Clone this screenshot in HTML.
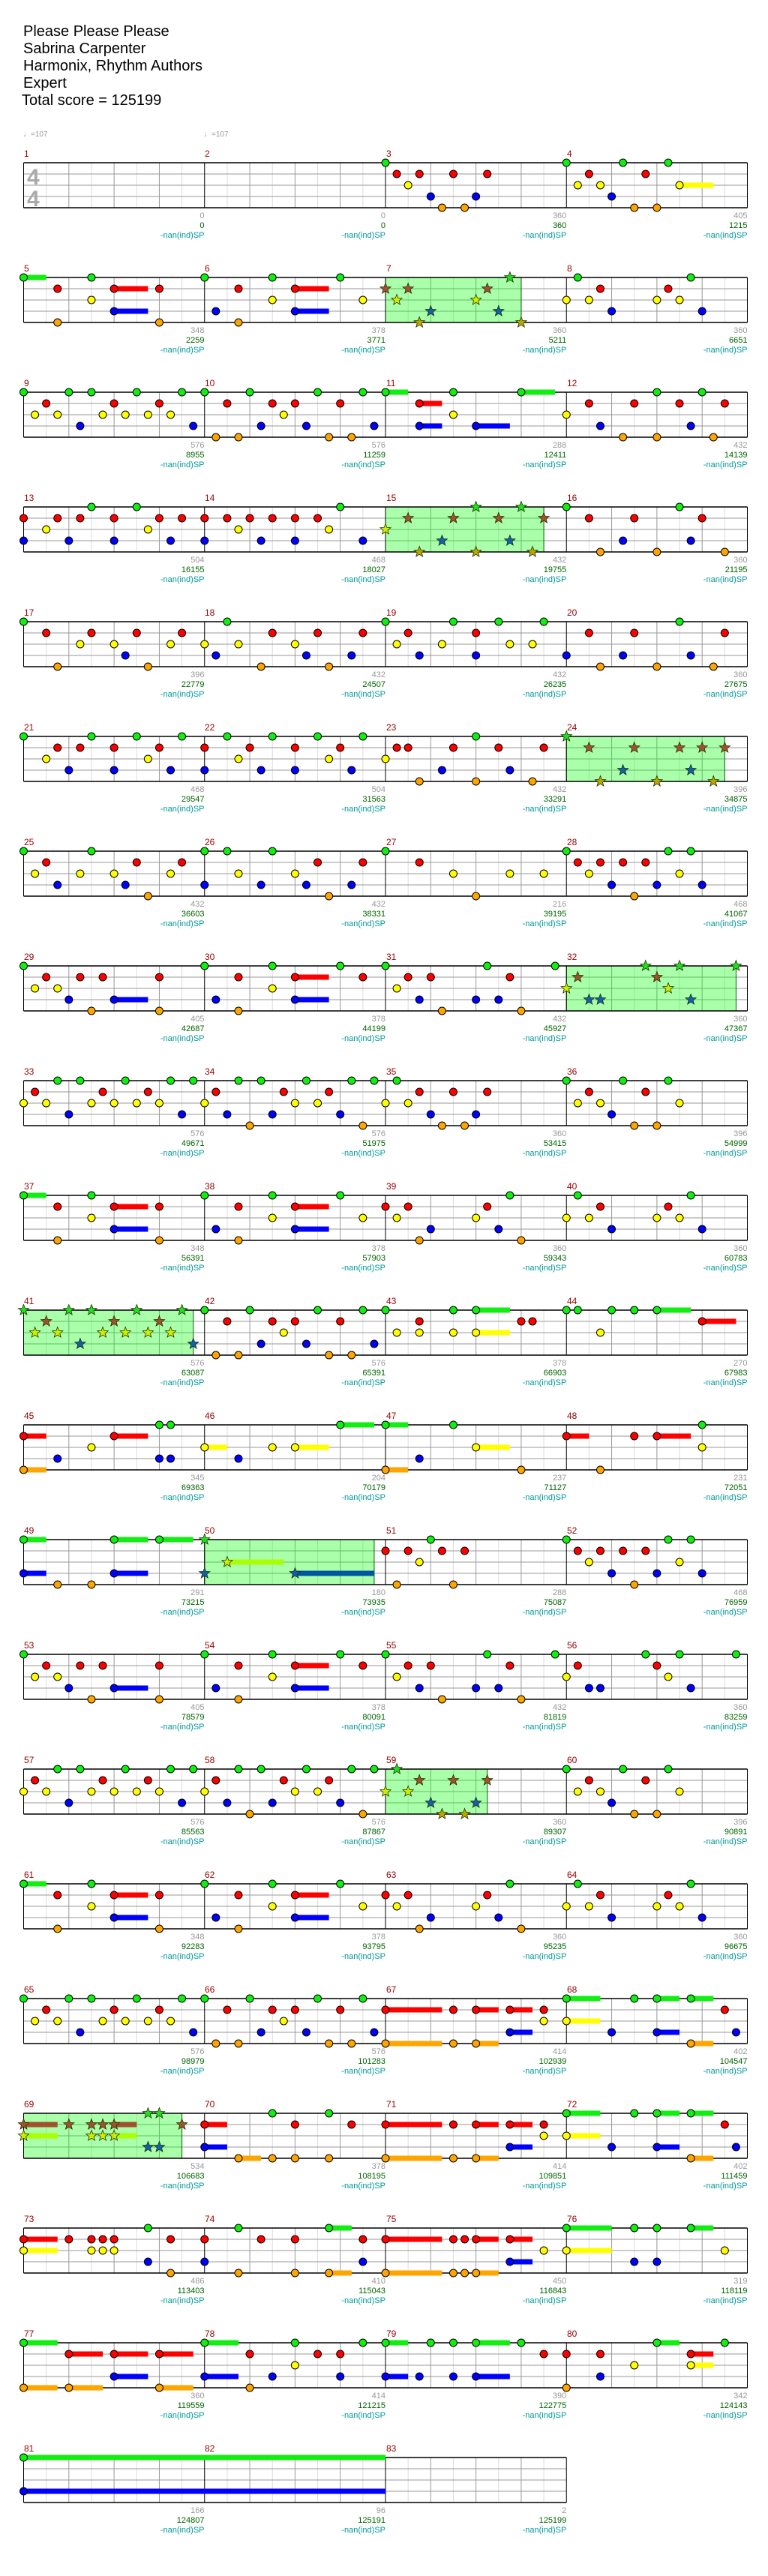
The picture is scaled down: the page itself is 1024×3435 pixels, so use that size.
<!DOCTYPE html>
<html><head><meta charset="utf-8">
<style>
html,body{margin:0;padding:0;background:#fff;}
body{width:1024px;height:3430px;position:relative;overflow:hidden;font-family:"Liberation Sans","DejaVu Sans",sans-serif;}
#g{position:absolute;left:0;top:0;width:1024px;height:3430px;}
.t{position:absolute;left:31px;top:31px;font-size:20px;line-height:23px;color:#000;}
.tp{position:absolute;top:174px;font-size:10px;color:#999;}
.ts{position:absolute;left:36px;font-size:30px;font-weight:bold;color:#aaa;line-height:1;}
.r{position:absolute;left:0;width:1024px;height:120px;}
.n{position:absolute;top:-19px;font-size:12px;line-height:14px;color:#990000;}
.l{position:absolute;top:65px;font-size:11px;line-height:13px;color:#999;text-align:right;transform:translateX(-100%);white-space:nowrap;font-weight:normal;}
.l b{color:#006400;font-weight:normal;}
.l i{color:#009999;font-style:normal;}
.n0{left:32px}.n1{left:273px}.n2{left:515px}.n3{left:756px}
.c0{left:272.5px}.c1{left:514px}.c2{left:755.3px}.c3{left:996.5px}
</style></head><body>
<div id="g"></div>
<div class="t">Please Please Please<br>Sabrina Carpenter<br>Harmonix, Rhythm Authors<br>Expert<br><span style="margin-left:-2px">Total score = 125199</span></div>
<div class="tp" style="left:31px">♩=107</div>
<div class="tp" style="left:272px">♩=107</div>
<div class="ts" style="top:222px">4</div>
<div class="ts" style="top:251px">4</div>

<div class="r" style="top:217px"><span class="n n0">1</span><span class="n n1">2</span><span class="n n2">3</span><span class="n n3">4</span>
<span class="l c0">0<br><b>0</b><br><i>-nan(ind)SP</i></span><span class="l c1">0<br><b>0</b><br><i>-nan(ind)SP</i></span><span class="l c2">360<br><b>360</b><br><i>-nan(ind)SP</i></span><span class="l c3">405<br><b>1215</b><br><i>-nan(ind)SP</i></span></div>
<div class="r" style="top:370px"><span class="n n0">5</span><span class="n n1">6</span><span class="n n2">7</span><span class="n n3">8</span>
<span class="l c0">348<br><b>2259</b><br><i>-nan(ind)SP</i></span><span class="l c1">378<br><b>3771</b><br><i>-nan(ind)SP</i></span><span class="l c2">360<br><b>5211</b><br><i>-nan(ind)SP</i></span><span class="l c3">360<br><b>6651</b><br><i>-nan(ind)SP</i></span></div>
<div class="r" style="top:523px"><span class="n n0">9</span><span class="n n1">10</span><span class="n n2">11</span><span class="n n3">12</span>
<span class="l c0">576<br><b>8955</b><br><i>-nan(ind)SP</i></span><span class="l c1">576<br><b>11259</b><br><i>-nan(ind)SP</i></span><span class="l c2">288<br><b>12411</b><br><i>-nan(ind)SP</i></span><span class="l c3">432<br><b>14139</b><br><i>-nan(ind)SP</i></span></div>
<div class="r" style="top:676px"><span class="n n0">13</span><span class="n n1">14</span><span class="n n2">15</span><span class="n n3">16</span>
<span class="l c0">504<br><b>16155</b><br><i>-nan(ind)SP</i></span><span class="l c1">468<br><b>18027</b><br><i>-nan(ind)SP</i></span><span class="l c2">432<br><b>19755</b><br><i>-nan(ind)SP</i></span><span class="l c3">360<br><b>21195</b><br><i>-nan(ind)SP</i></span></div>
<div class="r" style="top:829px"><span class="n n0">17</span><span class="n n1">18</span><span class="n n2">19</span><span class="n n3">20</span>
<span class="l c0">396<br><b>22779</b><br><i>-nan(ind)SP</i></span><span class="l c1">432<br><b>24507</b><br><i>-nan(ind)SP</i></span><span class="l c2">432<br><b>26235</b><br><i>-nan(ind)SP</i></span><span class="l c3">360<br><b>27675</b><br><i>-nan(ind)SP</i></span></div>
<div class="r" style="top:982px"><span class="n n0">21</span><span class="n n1">22</span><span class="n n2">23</span><span class="n n3">24</span>
<span class="l c0">468<br><b>29547</b><br><i>-nan(ind)SP</i></span><span class="l c1">504<br><b>31563</b><br><i>-nan(ind)SP</i></span><span class="l c2">432<br><b>33291</b><br><i>-nan(ind)SP</i></span><span class="l c3">396<br><b>34875</b><br><i>-nan(ind)SP</i></span></div>
<div class="r" style="top:1135px"><span class="n n0">25</span><span class="n n1">26</span><span class="n n2">27</span><span class="n n3">28</span>
<span class="l c0">432<br><b>36603</b><br><i>-nan(ind)SP</i></span><span class="l c1">432<br><b>38331</b><br><i>-nan(ind)SP</i></span><span class="l c2">216<br><b>39195</b><br><i>-nan(ind)SP</i></span><span class="l c3">468<br><b>41067</b><br><i>-nan(ind)SP</i></span></div>
<div class="r" style="top:1288px"><span class="n n0">29</span><span class="n n1">30</span><span class="n n2">31</span><span class="n n3">32</span>
<span class="l c0">405<br><b>42687</b><br><i>-nan(ind)SP</i></span><span class="l c1">378<br><b>44199</b><br><i>-nan(ind)SP</i></span><span class="l c2">432<br><b>45927</b><br><i>-nan(ind)SP</i></span><span class="l c3">360<br><b>47367</b><br><i>-nan(ind)SP</i></span></div>
<div class="r" style="top:1441px"><span class="n n0">33</span><span class="n n1">34</span><span class="n n2">35</span><span class="n n3">36</span>
<span class="l c0">576<br><b>49671</b><br><i>-nan(ind)SP</i></span><span class="l c1">576<br><b>51975</b><br><i>-nan(ind)SP</i></span><span class="l c2">360<br><b>53415</b><br><i>-nan(ind)SP</i></span><span class="l c3">396<br><b>54999</b><br><i>-nan(ind)SP</i></span></div>
<div class="r" style="top:1594px"><span class="n n0">37</span><span class="n n1">38</span><span class="n n2">39</span><span class="n n3">40</span>
<span class="l c0">348<br><b>56391</b><br><i>-nan(ind)SP</i></span><span class="l c1">378<br><b>57903</b><br><i>-nan(ind)SP</i></span><span class="l c2">360<br><b>59343</b><br><i>-nan(ind)SP</i></span><span class="l c3">360<br><b>60783</b><br><i>-nan(ind)SP</i></span></div>
<div class="r" style="top:1747px"><span class="n n0">41</span><span class="n n1">42</span><span class="n n2">43</span><span class="n n3">44</span>
<span class="l c0">576<br><b>63087</b><br><i>-nan(ind)SP</i></span><span class="l c1">576<br><b>65391</b><br><i>-nan(ind)SP</i></span><span class="l c2">378<br><b>66903</b><br><i>-nan(ind)SP</i></span><span class="l c3">270<br><b>67983</b><br><i>-nan(ind)SP</i></span></div>
<div class="r" style="top:1900px"><span class="n n0">45</span><span class="n n1">46</span><span class="n n2">47</span><span class="n n3">48</span>
<span class="l c0">345<br><b>69363</b><br><i>-nan(ind)SP</i></span><span class="l c1">204<br><b>70179</b><br><i>-nan(ind)SP</i></span><span class="l c2">237<br><b>71127</b><br><i>-nan(ind)SP</i></span><span class="l c3">231<br><b>72051</b><br><i>-nan(ind)SP</i></span></div>
<div class="r" style="top:2053px"><span class="n n0">49</span><span class="n n1">50</span><span class="n n2">51</span><span class="n n3">52</span>
<span class="l c0">291<br><b>73215</b><br><i>-nan(ind)SP</i></span><span class="l c1">180<br><b>73935</b><br><i>-nan(ind)SP</i></span><span class="l c2">288<br><b>75087</b><br><i>-nan(ind)SP</i></span><span class="l c3">468<br><b>76959</b><br><i>-nan(ind)SP</i></span></div>
<div class="r" style="top:2206px"><span class="n n0">53</span><span class="n n1">54</span><span class="n n2">55</span><span class="n n3">56</span>
<span class="l c0">405<br><b>78579</b><br><i>-nan(ind)SP</i></span><span class="l c1">378<br><b>80091</b><br><i>-nan(ind)SP</i></span><span class="l c2">432<br><b>81819</b><br><i>-nan(ind)SP</i></span><span class="l c3">360<br><b>83259</b><br><i>-nan(ind)SP</i></span></div>
<div class="r" style="top:2359px"><span class="n n0">57</span><span class="n n1">58</span><span class="n n2">59</span><span class="n n3">60</span>
<span class="l c0">576<br><b>85563</b><br><i>-nan(ind)SP</i></span><span class="l c1">576<br><b>87867</b><br><i>-nan(ind)SP</i></span><span class="l c2">360<br><b>89307</b><br><i>-nan(ind)SP</i></span><span class="l c3">396<br><b>90891</b><br><i>-nan(ind)SP</i></span></div>
<div class="r" style="top:2512px"><span class="n n0">61</span><span class="n n1">62</span><span class="n n2">63</span><span class="n n3">64</span>
<span class="l c0">348<br><b>92283</b><br><i>-nan(ind)SP</i></span><span class="l c1">378<br><b>93795</b><br><i>-nan(ind)SP</i></span><span class="l c2">360<br><b>95235</b><br><i>-nan(ind)SP</i></span><span class="l c3">360<br><b>96675</b><br><i>-nan(ind)SP</i></span></div>
<div class="r" style="top:2665px"><span class="n n0">65</span><span class="n n1">66</span><span class="n n2">67</span><span class="n n3">68</span>
<span class="l c0">576<br><b>98979</b><br><i>-nan(ind)SP</i></span><span class="l c1">576<br><b>101283</b><br><i>-nan(ind)SP</i></span><span class="l c2">414<br><b>102939</b><br><i>-nan(ind)SP</i></span><span class="l c3">402<br><b>104547</b><br><i>-nan(ind)SP</i></span></div>
<div class="r" style="top:2818px"><span class="n n0">69</span><span class="n n1">70</span><span class="n n2">71</span><span class="n n3">72</span>
<span class="l c0">534<br><b>106683</b><br><i>-nan(ind)SP</i></span><span class="l c1">378<br><b>108195</b><br><i>-nan(ind)SP</i></span><span class="l c2">414<br><b>109851</b><br><i>-nan(ind)SP</i></span><span class="l c3">402<br><b>111459</b><br><i>-nan(ind)SP</i></span></div>
<div class="r" style="top:2971px"><span class="n n0">73</span><span class="n n1">74</span><span class="n n2">75</span><span class="n n3">76</span>
<span class="l c0">486<br><b>113403</b><br><i>-nan(ind)SP</i></span><span class="l c1">410<br><b>115043</b><br><i>-nan(ind)SP</i></span><span class="l c2">450<br><b>116843</b><br><i>-nan(ind)SP</i></span><span class="l c3">319<br><b>118119</b><br><i>-nan(ind)SP</i></span></div>
<div class="r" style="top:3124px"><span class="n n0">77</span><span class="n n1">78</span><span class="n n2">79</span><span class="n n3">80</span>
<span class="l c0">360<br><b>119559</b><br><i>-nan(ind)SP</i></span><span class="l c1">414<br><b>121215</b><br><i>-nan(ind)SP</i></span><span class="l c2">390<br><b>122775</b><br><i>-nan(ind)SP</i></span><span class="l c3">342<br><b>124143</b><br><i>-nan(ind)SP</i></span></div>
<div class="r" style="top:3277px"><span class="n n0">81</span><span class="n n1">82</span><span class="n n2">83</span>
<span class="l c0">166<br><b>124807</b><br><i>-nan(ind)SP</i></span><span class="l c1">96<br><b>125191</b><br><i>-nan(ind)SP</i></span><span class="l c2">2<br><b>125199</b><br><i>-nan(ind)SP</i></span></div>

<script>
(function(){
var M5="G0-2 G6 R3 R8-3 R12 Y6 B8-3 O3 O12",
M6="G0 G6 G12 R3 R8-3 Y6 Y14 B1 B8-3 O3",
M7="G11 R0 R2 R9 Y1 Y8 B4 B10 O3 O12",
M8="G1 G11 R3 R9 Y0 Y2 Y8 Y10 B4 B12",
M9="G0 G4 G6 G10 G14 R2 R8 R12 Y1 Y3 Y7 Y9 Y11 Y13 B5 B15",
M10="G0 G4 G10 G14 R2 R6 R8 R12 Y7 B5 B9 B15 O1 O3 O11 O13",
M67="R0-5 R6 R8-2 R11-2 R14 Y14 B11-2 O0-5 O6 O8-2",
M68="G0-3 G6 G8-2 G11-2 R14 Y0-3 B4 B8-2 B15 O11-2";
var D=["","",
"G0 R1 R3 R6 R9 Y2 B4 B8 O5 O7",
"G0 G5 G9 R2 R7 Y1 Y3 Y10-3 B4 O6 O8",
M5,M6,M7,M8,M9,M10,
"G0-2 G6 G12-3 R3-2 Y6 B3-2 B8-3",
"G8 G12 R2 R6 R10 R14 Y0 B3 B11 O5 O8 O13",
"G6 G10 R0 R3 R5 R8 R12 R14 Y2 Y11 B0 B4 B8 B13",
"G12 R0 R2 R4 R6 R8 R10 Y3 Y11 B0 B5 B8 B14",
"G8 G12 R2 R6 R10 R14 Y0 B5 B11 O3 O8 O13",
"G0 G10 R2 R6 R12 B5 B11 O3 O8 O14",
"G0 R2 R6 R10 R14 Y5 Y8 Y13 B9 O3 O11",
"G2 R6 R10 R14 Y0 Y3 Y8 B1 B9 B13 O5 O11",
"G0 G6 G10 G14 R2 R8 Y1 Y5 Y11 Y13 B3 B8",
"G10 R2 R6 R14 B0 B5 B11 O3 O8 O13",
"G0 G6 G10 G14 R3 R5 R8 R12 Y2 Y11 B4 B8 B13",
"G2 G6 G10 G14 R0 R4 R8 R12 Y3 Y11 B0 B5 B8 B13",
"G8 R1 R2 R6 R10 R14 Y0 B5 B11 O3 O8 O13",
"G0 R2 R6 R10 R12 R14 B5 B11 O3 O8 O13",
"G0 G6 R2 R10 R14 Y1 Y5 Y8 Y13 B3 B9 O11",
"G0 G2 G6 R10 R14 Y3 Y8 B0 B5 B9 B13 O11",
"G0 R3 Y6 Y11 Y14 O8",
"G0 G9 G11 R1 R3 R5 R7 Y2 Y10 B4 B8 B12 O6",
"G0 R2 R5 R7 R12 Y1 Y3 B4 B8-3 O6 O12",
"G0 G6 G12 R3 R8-3 R14 Y6 B1 B8-3 O3",
"G0 G9 G15 R2 R4 R11 Y1 B3 B8 B10 O5 O12",
"G7 G10 G15 R1 R8 Y0 Y9 B2 B3 B11",
"G3 G5 G9 G13 G15 R1 R7 R11 Y0 Y2 Y6 Y8 Y10 Y12 B4 B14",
"G3 G5 G9 G13 G15 R1 R7 R11 Y0 Y8 Y10 B2 B6 B12 O4 O14",
"G1 R3 R6 R9 Y0 Y2 B4 B8 O5 O7",
"G0 G5 G9 R2 R7 Y1 Y3 Y10 B4 O6 O8",
M5,M6,M7,M8,M9,M10,
"G0 G6 G8-3 R3 R12 R13 Y1 Y3 Y6 Y8-3",
"G0 G1 G4 G6 G8-3 R12-3 Y3",
"G12 G13 R0-2 R8-3 Y6 B3 B12 B13 O0-2",
"G12-3 Y0-2 Y6 Y8-3 B3",
"G0-2 G6 Y8-3 B3 O0-2 O12",
"G12 R0-2 R6 R8-3 Y12 O3",
"G0-2 G8-3 G12-3 B0-2 B8-3 O3 O6",
"G0 B0 Y2-5 B8-7",
"G4 R0 R2 R5 R7 Y3 O1 O6",
"G0 G9 G11 R1 R3 R5 R7 Y2 Y10 B4 B8 B12 O6",
"G0 R2 R5 R7 R12 Y1 Y3 B4 B8-3 O6 O12",
"G0 G6 G12 R3 R8-3 R14 Y6 B1 B8-3 O3",
"G0 G9 G15 R2 R4 R11 Y1 B3 B8 B10 O5 O12",
"G7 G10 G15 R1 R8 Y0 Y9 B2 B3 B11",
"G3 G5 G9 G13 G15 R1 R7 R11 Y0 Y2 Y6 Y8 Y10 Y12 B4 B14",
"G3 G5 G9 G13 G15 R1 R7 R11 Y0 Y8 Y10 B2 B6 B12 O4 O14",
"G1 R3 R6 R9 Y0 Y2 B4 B8 O5 O7",
"G0 G5 G9 R2 R7 Y1 Y3 Y10 B4 O6 O8",
M5,M6,M7,M8,M9,M10,M67,M68,
"R0-3 R4 R6 R7 R8-2 R14 Y0-3 Y6 Y7 Y8-2 G11 G12 B11 B12",
"G6 G11 R0-2 R8 R13 B0-2 O3-2 O6 O8 O11",
M67,M68,
"G11 R0-3 R4 R6 R7 R8 R13 Y0-3 Y6 Y7 Y8 B11 O13",
"G3 G11-2 R0 R5 R8 R14 B0 B14 O3 O8 O11-2",
"R0-5 R6 R7 R8-2 R11-2 Y14 B11-2 O0-5 O6 O7 O8-2",
"G0-4 G6 G8 G11-2 Y0-4 Y14 B6 B8",
"G0-3 R4-3 R8-3 R12-3 B8-3 O0-3 O4-3 O12-3",
"G0-3 G8 G14 R4 R10 R12 Y8 B0-3 B6 B12 O4",
"G0-2 G4 G6 G8-3 G12 R14 B0-2 B3 B6 B8-3",
"G8-2 G14 R0 R3 R11-2 Y6 Y11-2 B3 O0",
"G0-32 B0-32","",""];
var SP={7:12,15:14,24:14,32:15,41:15,50:15,59:9,69:14};
var LC=['#11ee11','#ff0000','#ffff00','#0000ff','#ffa500'];
var SC=['#22dd22','#a0522d','#ccee00','#1060b0','#b8a800'];
var SSC=['#22dd22','#a0522d','#aaff00','#0055a0','#b8a800'];
var LN={G:0,R:1,Y:2,B:3,O:4};
var MW=241.25,U=MW/16,X0=31.5;
var bg=[],gr=[],bx=[],ol=[],su=[],no=[];
function star(cx,cy,R,r){var p=[];for(var i=0;i<10;i++){var a=-Math.PI/2+i*Math.PI/5,rr=i%2?r:R;p.push((cx+rr*Math.cos(a)).toFixed(1)+','+(cy+rr*Math.sin(a)).toFixed(1));}return p.join(' ');}
for(var row=0;row<21;row++){
  var y=217+153*row,nm=(row==20)?3:4,x1=X0+nm*MW;
  for(var c=0;c<nm;c++){var mx=X0+c*MW;
    for(var k=1;k<8;k++){var x=mx+k*MW/8;gr.push('<line x1="'+x+'" y1="'+y+'" x2="'+x+'" y2="'+(y+60)+'" stroke="'+(k%2?'#dcdcdc':'#999')+'" stroke-width="1"/>');}
  }
  for(var j=1;j<4;j++){gr.push('<line x1="'+X0+'" y1="'+(y+15*j)+'" x2="'+x1+'" y2="'+(y+15*j)+'" stroke="#999" stroke-width="1"/>');}
  for(var c=0;c<=nm;c++){var mx=X0+c*MW;ol.push('<line x1="'+mx+'" y1="'+y+'" x2="'+mx+'" y2="'+(y+60)+'" stroke="#000" stroke-width="1"/>');}
  ol.push('<line x1="'+X0+'" y1="'+y+'" x2="'+x1+'" y2="'+y+'" stroke="#000" stroke-width="1.5"/>');
  ol.push('<line x1="'+X0+'" y1="'+(y+60)+'" x2="'+x1+'" y2="'+(y+60)+'" stroke="#000" stroke-width="1.5"/>');
}
for(var m=1;m<=83;m++){
  var r=Math.floor((m-1)/4),c=(m-1)%4,mx=X0+c*MW,y=217+153*r,isSP=SP[m]!==undefined;
  if(isSP){bx.push('<rect x="'+mx+'" y="'+y+'" width="'+(SP[m]*U)+'" height="60" fill="rgb(0,255,0)" fill-opacity="0.333" stroke="#006400" stroke-width="1"/>');}
  var s=D[m-1];if(!s)continue;
  s.split(' ').forEach(function(t){
    var l=LN[t[0]],pr=t.slice(1).split('-'),p=+pr[0],len=pr[1]?+pr[1]:0;
    var x=mx+p*U,cy=y+l*15;
    if(len){su.push('<rect x="'+x+'" y="'+(cy-3.5)+'" width="'+(len*U)+'" height="7" fill="'+(isSP?SSC[l]:LC[l])+'"/>');}
    if(isSP){no.push('<polygon points="'+star(x,cy,7.5,3.2)+'" fill="'+SC[l]+'" stroke="#223300" stroke-width="0.8"/>');}
    else{no.push('<circle cx="'+x+'" cy="'+cy+'" r="5" fill="'+LC[l]+'" stroke="#000" stroke-width="1"/>');}
  });
}
document.getElementById('g').innerHTML='<svg xmlns="http://www.w3.org/2000/svg" width="1024" height="3430" viewBox="0 0 1024 3430">'+gr.join('')+bx.join('')+ol.join('')+su.join('')+no.join('')+'</svg>';
})();
</script>
</body></html>
